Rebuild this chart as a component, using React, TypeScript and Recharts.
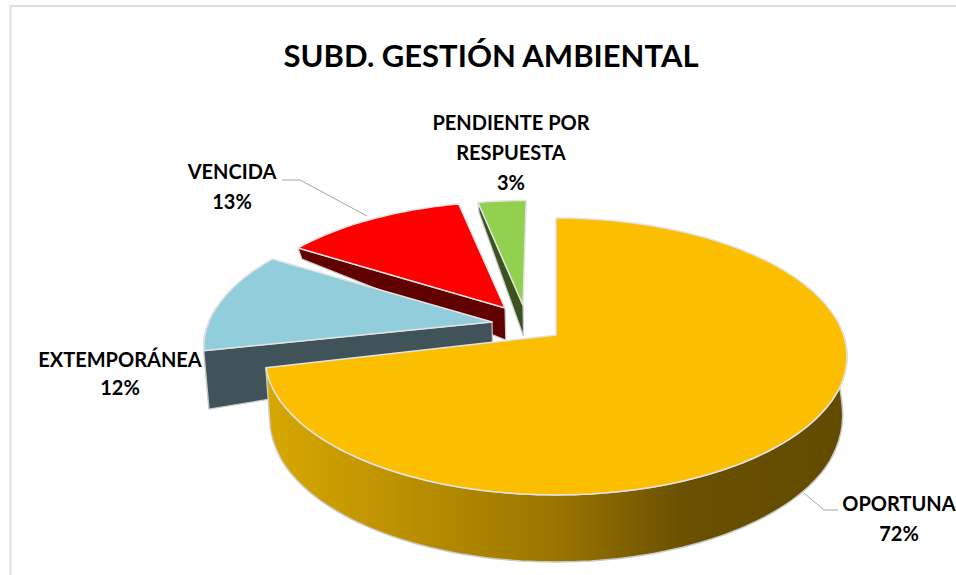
import React from 'react';
import { PieChart, Pie, Cell } from 'recharts';

const TITLE = 'SUBD. GESTIÓN AMBIENTAL';
// Drawn far to near so that the front slice covers the walls behind it.
const categories = ['PENDIENTE POR RESPUESTA', 'VENCIDA', 'EXTEMPORÁNEA', 'OPORTUNA'];
const shares = [3.4, 12.7, 12.3, 71.6];
const topColors = ['#92D050', '#FF0000', '#92CDDC', '#FBBE00'];
const wallColors = ['#3A5320', '#600000', '#3F5359', 'url(#orangeWall)'];

// Look of the 3D pie
const explodeU = [-0.1187, -0.183, -0.226, 0];
const explodeV = [0.2276, 0.2062, 0.0976, 0];
const radiusScale = [0.95, 0.96, 1, 1];
const PERSPECTIVE = 0.155;
const FLATTEN = 0.47;
const BASE_X_SCALE = 0.985;
const depthT = [-1.18, -0.5, -0.1, 0.2, 0.64, 1];
const depthPx = [67, 64, 58, 32, 11, 10];

const labelLayout = [
  { x: 511, ys: [122, 152, 182], lines: ['PENDIENTE POR', 'RESPUESTA'], leader: '' },
  { x: 232, ys: [171, 201], lines: ['VENCIDA'], leader: 'M282 180 L300 180 L367 216' },
  { x: 120, ys: [359, 387], lines: ['EXTEMPORÁNEA'], leader: '' },
  { x: 899, ys: [503, 533], lines: ['OPORTUNA'], leader: 'M804 493 L824 510 L838 510' },
];

const chartData = categories.map((name, i) => ({ name, value: shares[i] }));

function depth(t: number) {
  if (t <= depthT[0]) return depthPx[0];
  for (let i = 1; i < depthT.length; i++) {
    if (t <= depthT[i]) {
      const f = (t - depthT[i - 1]) / (depthT[i] - depthT[i - 1]);
      return depthPx[i - 1] + f * (depthPx[i] - depthPx[i - 1]);
    }
  }
  return depthPx[depthPx.length - 1];
}

function Slice3D(props: any) {
  const { cx, cy, outerRadius, startAngle, endAngle, index } = props;
  const idx: number = index ?? categories.indexOf(props.name);
  const A = outerRadius;
  const B = outerRadius * FLATTEN;
  const span = Math.abs(endAngle - startAngle);
  let from = 90 - Math.max(endAngle, startAngle);
  while (from < 0) from += 360;
  const to = from + span;
  const R = radiusScale[idx];
  const du = explodeU[idx];
  const dv = explodeV[idx];

  const top = (u: number, v: number) => {
    const w = 1 + PERSPECTIVE * v;
    return { x: cx + (A * u) / w, y: cy - (B * v) / w, t: v / w };
  };
  const base = (p: { x: number; y: number; t: number }) => ({
    x: cx + (p.x - cx) * BASE_X_SCALE,
    y: p.y + depth(p.t),
  });
  const rim = (deg: number) => {
    const a = (deg * Math.PI) / 180;
    return top(du + R * Math.sin(a), dv + R * Math.cos(a));
  };
  const apex = top(du, dv);
  const pts = (list: { x: number; y: number }[]) =>
    list.map((p) => `${p.x.toFixed(1)} ${p.y.toFixed(1)}`).join(' L');

  const arc: ReturnType<typeof top>[] = [];
  for (let d = from; d <= to + 0.001; d += 1.5) arc.push(rim(Math.min(d, to)));
  const first = arc[0];

  const topPath = `M${pts([apex, ...arc])} Z`;
  const facePath = `M${pts([apex, first, base(first), base(apex)])} Z`;

  const wallArc = arc.filter((p, i) => {
    const d = from + i * 1.5;
    const s = Math.sin((d * Math.PI) / 180);
    const c = Math.cos((d * Math.PI) / 180);
    return c < 0.12 && (s > 0 || c < 0.12);
  });
  const wallPath =
    wallArc.length > 1
      ? `M${pts(wallArc)} L${pts([...wallArc].reverse().map(base))} Z`
      : '';
  const wallFill = wallColors[idx];

  return (
    <g>
      <defs>
        <linearGradient id="orangeWall" x1="0" y1="0" x2="1" y2="0">
          <stop offset="0" stopColor="#D8A800" />
          <stop offset="0.5" stopColor="#9A7500" />
          <stop offset="0.72" stopColor="#6A5000" />
          <stop offset="1" stopColor="#624B00" />
        </linearGradient>
      </defs>
      {wallPath && <path d={wallPath} fill={wallFill} stroke="#C9C9C9" strokeWidth={1.5} />}
      {idx !== 3 && <path d={facePath} fill={wallFill} stroke="#C9C9C9" strokeWidth={1.2} />}
      <path d={topPath} fill={topColors[idx]} stroke="#E4E4E4" strokeWidth={1.5} strokeLinejoin="round" />
    </g>
  );
}

function SliceLabel(props: any) {
  const idx: number = props.index;
  const layout = labelLayout[idx];
  const pct = `${Math.round(shares[idx])}%`;
  const rows = [...layout.lines, pct];
  return (
    <g>
      {layout.leader && <path d={layout.leader} fill="none" stroke="#A6A6A6" strokeWidth={1} />}
      {rows.map((row, i) => (
        <text
          key={row}
          x={layout.x}
          y={layout.ys[i]}
          textAnchor="middle"
          dominantBaseline="central"
          fontFamily="Lato, sans-serif"
          fontWeight={700}
          fontSize={20}
          fill="#000"
        >
          {row}
        </text>
      ))}
    </g>
  );
}

export default function App() {
  return (
    <div style={{ position: 'absolute', left: 0, top: 0, width: 956, height: 575, background: '#fff' }}>
      <PieChart width={956} height={575} margin={{ top: 0, right: 0, bottom: 0, left: 0 }}>
        <path d="M10.5 575 L10.5 6 L956 6" fill="none" stroke="#DEDEDE" strokeWidth={2} />
        <text
          x={491}
          y={55}
          textAnchor="middle"
          dominantBaseline="central"
          fontFamily="Lato, sans-serif"
          fontWeight={700}
          fontSize={31}
          fill="#000"
        >
          {TITLE}
        </text>
        <Pie
          data={chartData}
          dataKey="value"
          nameKey="name"
          cx={556}
          cy={335}
          innerRadius={0}
          outerRadius={287.5}
          startAngle={90}
          endAngle={450}
          stroke="none"
          isAnimationActive={false}
          labelLine={false}
          label={SliceLabel}
          shape={Slice3D}
        >
          {chartData.map((d, i) => (
            <Cell key={d.name} fill={topColors[i]} />
          ))}
        </Pie>
      </PieChart>
    </div>
  );
}
